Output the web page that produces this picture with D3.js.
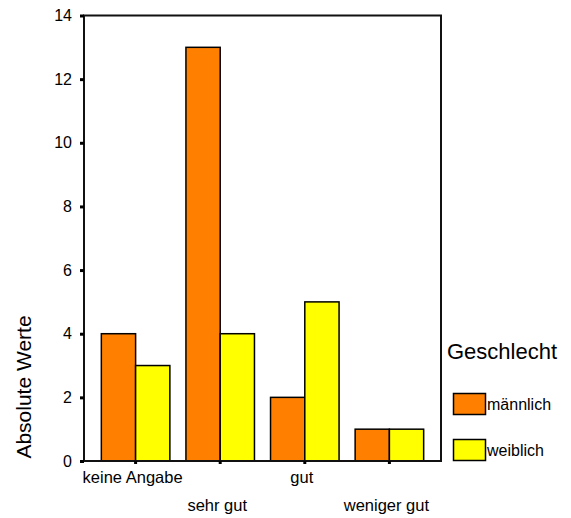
<!DOCTYPE html>
<html><head><meta charset="utf-8">
<script src="https://cdn.jsdelivr.net/npm/d3@7"></script>
<style>
body{margin:0;background:#fff;}
text{font-family:"Liberation Sans",Arial,sans-serif;fill:#000;}
</style></head>
<body>
<svg id="c" width="571" height="518"></svg>
<script>
const categories = ["keine Angabe", "sehr gut", "gut", "weniger gut"];
const seriesNames = ["männlich", "weiblich"];
const maennlich = [4, 13, 2, 1];
const weiblich = [3, 4, 5, 1];
const yTicks = [0, 2, 4, 6, 8, 10, 12, 14];
const colors = ["#FF8000", "#FFFF00"];

const svg = d3.select("#c");
const L = 84, R = 441, T = 15.5, B = 461;

const x = d3.scaleBand().domain(categories).range([L, R]).paddingInner(0.19).paddingOuter(0.205);
const xs = d3.scaleBand().domain(seriesNames).range([0, x.bandwidth()]);
const y = d3.scaleLinear().domain([0, 14]).range([B, T]);

const data = categories.map((c, i) => ({cat: c, vals: [maennlich[i], weiblich[i]]}));

// bars
const g = svg.append("g");
data.forEach(d => {
  d.vals.forEach((v, j) => {
    g.append("rect")
      .attr("x", x(d.cat) + xs(seriesNames[j]))
      .attr("y", y(v))
      .attr("width", xs.bandwidth())
      .attr("height", y(0) - y(v))
      .attr("fill", colors[j])
      .attr("stroke", "#000")
      .attr("stroke-width", 1.5);
  });
});

// frame
svg.append("rect").attr("x", L).attr("y", T).attr("width", R - L).attr("height", B - T)
  .attr("fill", "none").attr("stroke", "#111").attr("stroke-width", 2);

// y axis ticks and labels
const yAxis = d3.axisLeft(y).tickValues(yTicks).tickSize(4).tickPadding(8);
const ya = svg.append("g").attr("transform", `translate(${L},0)`).call(yAxis);
ya.select(".domain").remove();
ya.selectAll(".tick line").attr("stroke", "#000").attr("stroke-width", 3);
ya.selectAll(".tick text").attr("font-size", 16).attr("font-family", "Liberation Sans, Arial, sans-serif").attr("fill", "#000");

// x ticks and labels (staggered)
const xa = svg.append("g").attr("transform", `translate(0,${B})`)
  .call(d3.axisBottom(x).tickSize(3).tickFormat(""));
xa.select(".domain").remove();
xa.selectAll(".tick line").attr("stroke", "#000").attr("stroke-width", 3);
categories.forEach((c, i) => {
  svg.append("text")
    .attr("x", x(c) + x.bandwidth() / 2 - 3)
    .attr("y", i % 2 === 0 ? 483 : 511)
    .attr("text-anchor", "middle")
    .attr("font-size", 16.5)
    .text(c);
});

// y axis title
svg.append("text")
  .attr("transform", "translate(31,387) rotate(-90)")
  .attr("text-anchor", "middle")
  .attr("font-size", 21)
  .text("Absolute Werte");

// legend
svg.append("text").attr("x", 447).attr("y", 359).attr("font-size", 22).text("Geschlecht");
const legY = [393.5, 439.5];
seriesNames.forEach((s, j) => {
  svg.append("rect").attr("x", 453.5).attr("y", legY[j]).attr("width", 32).attr("height", 21)
    .attr("fill", colors[j]).attr("stroke", "#000").attr("stroke-width", 1.5);
  svg.append("text").attr("x", 487).attr("y", legY[j] + 16).attr("font-size", 16).text(s);
});
</script>
</body></html>
